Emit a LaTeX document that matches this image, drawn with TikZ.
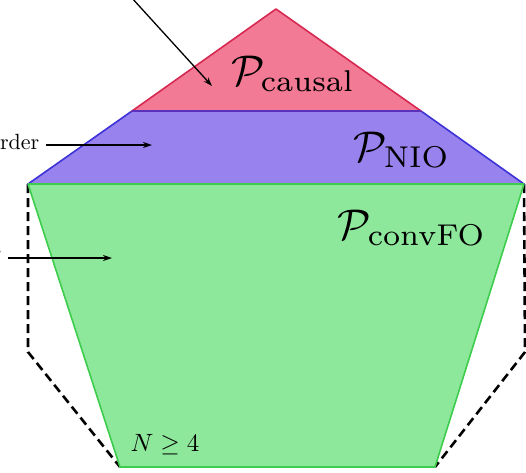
\documentclass[tikz,border=0pt]{standalone}
\usepackage{amsmath}
\usepackage{amssymb}
\usetikzlibrary{arrows.meta,positioning}

\definecolor{causalfill}{RGB}{243,122,148}
\definecolor{causaledge}{RGB}{214,40,80}
\definecolor{niofill}{RGB}{152,130,238}
\definecolor{nioedge}{RGB}{60,50,215}
\definecolor{fofill}{RGB}{142,232,156}
\definecolor{foedge}{RGB}{62,204,76}

\begin{document}
\begin{tikzpicture}[x=1pt, y=-1pt, >={Stealth[length=9pt, width=6pt]},
  region/.style={line width=1.6pt, line join=round},
  bound/.style={line width=2.6pt, dash pattern=on 9pt off 5pt},
  setlabel/.style={scale=4.3, inner sep=0pt},
  sidelabel/.style={scale=2.2, inner sep=1pt, anchor=east},
  pointer/.style={->, line width=1.3pt}]
\useasboundingbox (0,0) rectangle (526,472);
\clip (0,0) rectangle (526,472);
% corners of the polytopes
\coordinate (apex) at (276,9);
\coordinate (ml) at (132,111);
\coordinate (mr) at (421,111);
\coordinate (tl) at (28,184);
\coordinate (tr) at (524,184);
\coordinate (bl) at (120,467);
\coordinate (br) at (435,467);
\coordinate (dl) at (28,352);
\coordinate (dr) at (525,352);
% outer dashed bound
\draw[bound] (tl) -- (dl) -- (bl);
\draw[bound] (tr) -- (dr) -- (br);
% regions
\filldraw[region, fill=fofill, draw=foedge] (tl) -- (tr) -- (br) -- (bl) -- cycle;
\filldraw[region, fill=niofill, draw=nioedge] (ml) -- (mr) -- (tr) -- (tl) -- cycle;
\filldraw[region, fill=causalfill, draw=causaledge] (apex) -- (mr) -- (ml) -- cycle;
\draw[line width=1.6pt, foedge] (tl) -- (tr);
\draw[line width=1.6pt, nioedge!80!causaledge] (ml) -- (mr);
% labels
\node[setlabel] (Pcausal) at (293,74) {$\mathcal{P}_{\text{causal}}$};
\node[setlabel] (Pnio) at (402,150) {$\mathcal{P}_{\text{NIO}}$};
\node[setlabel] (Pfo) at (412,228) {$\mathcal{P}_{\text{convFO}}$};
\node[scale=2.5, inner sep=0pt] (Nbound) at (165,445) {$N \geq 4$};
% pointers from the side
\coordinate (offtop) at (131,-3);
\coordinate (causalin) at (212,86);
\coordinate (nioin) at (152,145);
\coordinate (foin) at (112,258);
\node[sidelabel] (lblorder) at (42,142) {rder};
\node[sidelabel] (lblfo) at (4,256) {r};
\draw[pointer] (offtop) -- (causalin);
\draw[pointer, shorten <=4pt] (lblorder.east |- nioin) -- (nioin);
\draw[pointer, shorten <=4pt] (lblfo.east |- foin) -- (foin);
\end{tikzpicture}
\end{document}
